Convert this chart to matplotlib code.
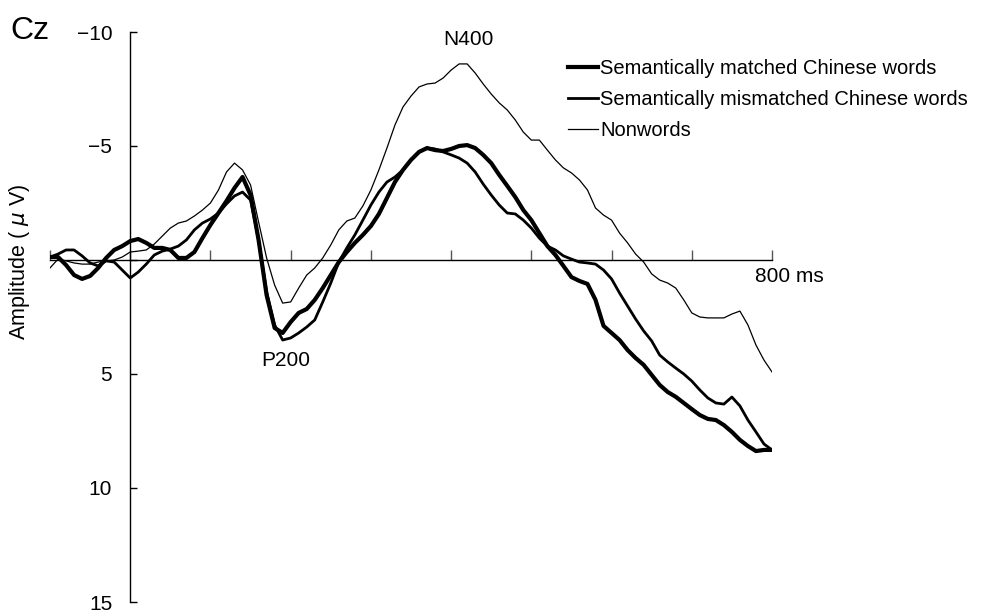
import numpy as np
import matplotlib
matplotlib.use("Agg")
import matplotlib.pyplot as plt

plt.rcParams['font.family'] = ['Liberation Sans', 'DejaVu Sans']

# time axis in ms (10 ms steps, -100 .. 800)
times = np.arange(-100, 801, 10)

# amplitudes in microvolts (negative is up)
matched = [
    -0.13, -0.13, 0.22, 0.66, 0.83, 0.70, 0.35, -0.09, -0.44, -0.61,
    -0.83, -0.92, -0.75, -0.53, -0.53, -0.44, -0.09, -0.09, -0.35, -0.96,
    -1.54, -2.06, -2.59, -3.16, -3.64, -2.85, -0.88, 1.54, 2.98, 3.20,
    2.72, 2.32, 2.15, 1.75, 1.23, 0.66, 0.09, -0.35, -0.75, -1.10,
    -1.49, -2.02, -2.72, -3.42, -3.95, -4.39, -4.74, -4.91, -4.82, -4.78,
    -4.87, -5.00, -5.04, -4.91, -4.61, -4.25, -3.73, -3.25, -2.76, -2.19,
    -1.75, -1.18, -0.61, -0.22, 0.26, 0.75, 0.92, 1.05, 1.75, 2.89,
    3.20, 3.51, 3.95, 4.30, 4.60, 5.04, 5.48, 5.79, 6.00, 6.27,
    6.54, 6.80, 6.97, 7.02, 7.24, 7.54, 7.89, 8.16, 8.38, 8.33,
    8.33,
]
mismatched = [
    -0.13, -0.26, -0.44, -0.44, -0.18, 0.13, 0.26, 0.04, 0.09, 0.44,
    0.79, 0.53, 0.18, -0.22, -0.39, -0.48, -0.61, -0.88, -1.32, -1.62,
    -1.80, -2.06, -2.46, -2.81, -2.98, -2.63, -0.88, 1.40, 2.85, 3.51,
    3.42, 3.20, 2.94, 2.63, 1.84, 1.01, 0.09, -0.53, -1.10, -1.75,
    -2.41, -2.98, -3.42, -3.64, -3.95, -4.39, -4.74, -4.91, -4.87, -4.74,
    -4.61, -4.47, -4.25, -3.86, -3.33, -2.85, -2.41, -2.06, -2.02, -1.75,
    -1.40, -0.96, -0.61, -0.44, -0.18, -0.04, 0.09, 0.13, 0.18, 0.44,
    0.83, 1.45, 2.02, 2.59, 3.11, 3.55, 4.17, 4.47, 4.74, 5.00,
    5.31, 5.70, 6.05, 6.27, 6.32, 6.01, 6.40, 7.02, 7.54, 8.07,
    8.33,
]
nonwords = [
    0.35, -0.04, 0.04, 0.13, 0.18, 0.18, 0.09, 0.04, 0.00, -0.13,
    -0.35, -0.39, -0.44, -0.70, -1.05, -1.40, -1.62, -1.71, -1.93, -2.19,
    -2.50, -3.07, -3.86, -4.25, -3.95, -3.29, -1.67, -0.09, 1.10, 1.89,
    1.84, 1.23, 0.66, 0.35, -0.09, -0.66, -1.32, -1.71, -1.84, -2.37,
    -3.07, -3.95, -4.91, -5.92, -6.71, -7.19, -7.59, -7.72, -7.76, -7.98,
    -8.33, -8.60, -8.60, -8.20, -7.72, -7.28, -6.89, -6.58, -6.14, -5.61,
    -5.26, -5.26, -4.82, -4.39, -4.04, -3.82, -3.51, -3.07, -2.28, -1.97,
    -1.75, -1.18, -0.75, -0.26, 0.09, 0.61, 0.88, 1.01, 1.23, 1.75,
    2.32, 2.50, 2.54, 2.54, 2.54, 2.37, 2.24, 2.85, 3.73, 4.39,
    4.91,
]

labels = ["Semantically matched Chinese words",
          "Semantically mismatched Chinese words",
          "Nonwords"]
widths = [3.0, 2.0, 0.9]

fig = plt.figure(figsize=(9.81, 6.12), dpi=100)
ax = fig.add_axes([50 / 981, 1 - 602 / 612, (772 - 50) / 981, (602 - 32) / 612])

for series, lab, lw in zip([matched, mismatched, nonwords], labels, widths):
    ax.plot(times, series, color='black', lw=lw, label=lab, solid_joinstyle='round')

ax.set_xlim(-100, 800)
ax.set_ylim(15, -10)

ax.spines['left'].set_position(('data', 0))
ax.spines['bottom'].set_position(('data', 0))
ax.spines['right'].set_visible(False)
ax.spines['top'].set_visible(False)
ax.spines['left'].set_linewidth(1.0)
ax.spines['bottom'].set_linewidth(1.0)

ax.set_yticks([-10, -5, 0, 5, 10, 15])
ax.set_yticklabels(['\u221210', '\u22125', '', '5', '10', '15'])
ax.tick_params(axis='y', direction='in', length=5, width=1, pad=13, labelsize=15)
ax.set_xticks(np.arange(-100, 801, 100))
ax.tick_params(axis='x', direction='in', length=7, width=1, color='#555555',
               labelbottom=False)

ax.text(779, 0.72, "800 ms", fontsize=15, ha='left', va='center')
ax.text(421, -9.65, "N400", fontsize=15, ha='center', va='center')
ax.text(194, 4.39, "P200", fontsize=15, ha='center', va='center')

fig.text(10 / 981, 1 - 31 / 612, "Cz", fontsize=23, ha='left', va='center')
fig.text(20 / 981, 1 - 262 / 612, "Amplitude ( $\\mu$ V)", fontsize=15.5,
         rotation=90, ha='center', va='center')

ax.legend(loc='upper left', bbox_to_anchor=(558 / 981, 1 - 49 / 612),
          bbox_transform=fig.transFigure, frameon=False, borderpad=0,
          handlelength=1.5, handletextpad=0.08, labelspacing=0.6, fontsize=14.5)

fig.savefig("out.png", dpi=100)
